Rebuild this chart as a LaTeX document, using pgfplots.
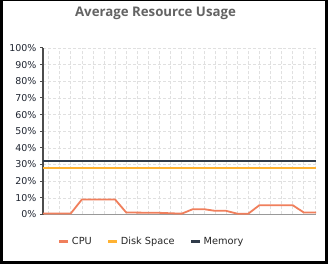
\documentclass[border=0pt]{standalone}
\usepackage{fontspec}
\setmainfont{DejaVu Sans}
\newfontfamily\titlefont{Open Sans}
\usepackage{pgfplots}
\pgfplotsset{compat=1.18}
\definecolor{cpuc}{HTML}{F07F5C}
\definecolor{diskc}{HTML}{FFB232}
\definecolor{memc}{HTML}{303B4A}
\definecolor{titlec}{HTML}{636363}
\definecolor{tickc}{HTML}{1E2430}
\begin{document}
\begin{tikzpicture}[x=1bp,y=1bp]
\fill[black] (0,0) rectangle (328,264);
\fill[white] (3,3.3) rectangle (325,263);
\node[anchor=base, font=\titlefont\bfseries\fontsize{13.3}{15}\selectfont, text=titlec] at (155.5,248) {Average Resource Usage};
\begin{axis}[
  at={(43bp,49.5bp)}, anchor=south west,
  scale only axis, width=273bp, height=166.5bp,
  xmin=0, xmax=24.6, ymin=0, ymax=100,
  axis x line*=bottom, axis y line*=left,
  x axis line style={-, draw=gray!80, line width=1.6bp},
  y axis line style={-, draw=black!70, line width=1.3bp},
  xtick={0.5,1.5,...,24.5}, xticklabels={},
  ytick={0,10,...,100},
  yticklabel={\pgfmathprintnumber{\tick}\%},
  /pgf/number format/assume math mode=true,
  tick label style={font=\fontsize{9.5}{11}\selectfont, text=tickc},
  xtick style={draw=none},
  ytick style={draw=black!70, line width=1bp},
  tick align=outside, major tick length=3bp,
  grid=major,
  major grid style={dash pattern=on 3bp off 2bp, draw=black!12, line width=0.6bp},
  legend columns=3,
  legend style={at={(0.398,-0.165)}, anchor=center, draw=none, fill=none,
    font=\fontsize{9.8}{11}\selectfont, text=black!85,
    /tikz/every even column/.append style={column sep=13bp}},
  legend image code/.code={\draw[#1, line width=3bp] (0bp,0bp) -- (9bp,0bp);},
]
\addplot[cpuc, line width=1.8bp] coordinates {
(0,0.6) (2.5,0.6) (3.5,9) (6.5,9) (7.5,1.2) (10.5,1.0) (12.5,0.5) (13.5,3.2) (14.5,3.2) (15.5,2.2) (16.5,2.2) (17.5,0.5) (18.5,0.5) (19.5,5.6) (22.5,5.6) (23.5,1.2) (24.6,1.2)};
\addlegendentry{CPU}
\addplot[diskc, line width=1.8bp] coordinates {(0,28) (24.6,28)};
\addlegendentry{Disk Space}
\addplot[memc, line width=2bp] coordinates {(0,32) (24.6,32)};
\addlegendentry{Memory}
\end{axis}
\end{tikzpicture}
\end{document}
